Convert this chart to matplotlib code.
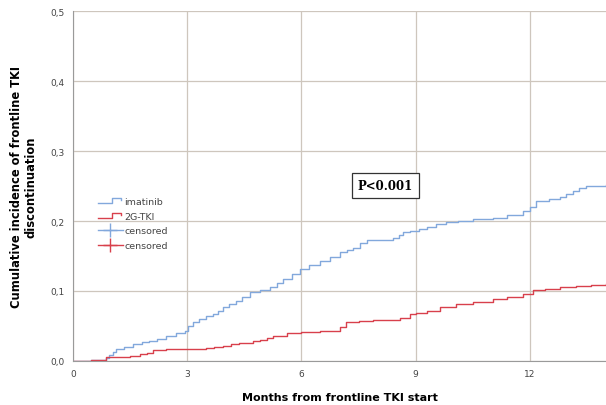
import numpy as np
import matplotlib
matplotlib.use("Agg")
import matplotlib.pyplot as plt
from matplotlib.lines import Line2D
from matplotlib.legend_handler import HandlerBase

# 数据（从图中读取的阶梯点）
imatinib_t = [0.0, 0.48, 0.87, 0.95, 1.05, 1.14, 1.35, 1.57, 1.8, 2.0, 2.2, 2.45, 2.7, 2.93, 3.02, 3.15,
              3.3, 3.5, 3.67, 3.8, 3.94, 4.1, 4.29, 4.45, 4.64, 4.9, 5.17, 5.35, 5.52, 5.75, 5.96, 6.2,
              6.48, 6.75, 7.0, 7.2, 7.36, 7.55, 7.71, 8.41, 8.55, 8.67, 8.85, 9.1, 9.3, 9.54, 9.8, 10.1,
              10.5, 11.03, 11.4, 11.82, 12.0, 12.17, 12.5, 12.78, 12.95, 13.13, 13.3, 13.48, 14.0]
imatinib_v = [0.0, 0.002, 0.004, 0.009, 0.013, 0.017, 0.020, 0.024, 0.027, 0.029, 0.032, 0.036, 0.040,
              0.043, 0.050, 0.055, 0.060, 0.064, 0.067, 0.072, 0.077, 0.081, 0.086, 0.092, 0.098, 0.101,
              0.105, 0.111, 0.117, 0.124, 0.131, 0.137, 0.143, 0.149, 0.155, 0.158, 0.162, 0.168, 0.173,
              0.176, 0.180, 0.184, 0.186, 0.188, 0.192, 0.196, 0.198, 0.200, 0.203, 0.205, 0.209, 0.215,
              0.220, 0.229, 0.232, 0.234, 0.238, 0.243, 0.247, 0.250, 0.252]
tki2g_t = [0.0, 0.48, 0.87, 1.2, 1.49, 1.75, 1.95, 2.1, 2.45, 3.5, 3.7, 3.94, 4.15, 4.37, 4.72, 4.91,
           5.1, 5.26, 5.61, 6.0, 6.48, 7.0, 7.18, 7.5, 7.88, 8.58, 8.84, 9.02, 9.3, 9.63, 10.07, 10.5,
           11.03, 11.4, 11.82, 12.08, 12.4, 12.78, 13.2, 13.6, 14.0]
tki2g_v = [0.0, 0.002, 0.005, 0.006, 0.007, 0.010, 0.012, 0.015, 0.017, 0.019, 0.020, 0.022, 0.024,
           0.026, 0.028, 0.030, 0.033, 0.036, 0.040, 0.041, 0.043, 0.048, 0.055, 0.057, 0.059, 0.061,
           0.067, 0.069, 0.072, 0.077, 0.081, 0.084, 0.089, 0.092, 0.096, 0.102, 0.103, 0.105, 0.107,
           0.109, 0.110]

x_ticks = [0, 3, 6, 9, 12]
y_ticks = [0.0, 0.1, 0.2, 0.3, 0.4, 0.5]
y_labels = ["0,0", "0,1", "0,2", "0,3", "0,4", "0,5"]

blue = "#82A8DC"
red = "#D8404C"
grid_c = "#CEC6BD"


class StepHandler(HandlerBase):
    # 图例中的阶梯小图标
    def create_artists(self, legend, orig_handle, xdescent, ydescent, width, height, fontsize, trans):
        x0 = -xdescent
        xs = [x0, x0 + width * 0.55, x0 + width * 0.55, x0 + width * 0.95, x0 + width * 0.95]
        ys = [0.15 * height, 0.15 * height, 0.85 * height, 0.85 * height, 0.55 * height]
        ln = Line2D(xs, ys, color=orig_handle.get_color(), lw=1, transform=trans)
        return [ln]


fig = plt.figure(figsize=(6.06, 4.06), dpi=100)
ax = fig.add_axes([0.1205, 0.1084, 0.8795, 0.862])

l1, = ax.step(imatinib_t, imatinib_v, where="post", color=blue, lw=1.0)
l2, = ax.step(tki2g_t, tki2g_v, where="post", color=red, lw=1.0)

ax.set_xlim(0, 14)
ax.set_ylim(0, 0.5)
ax.set_xticks(x_ticks)
ax.set_xticklabels([str(t) for t in x_ticks], fontsize=6.5, color="#444444")
ax.set_yticks(y_ticks)
ax.set_yticklabels(y_labels, fontsize=6.5, color="#444444")
ax.tick_params(length=0, pad=6)
ax.grid(True, color=grid_c, lw=0.9)
ax.set_axisbelow(True)
for s in ["top", "right"]:
    ax.spines[s].set_visible(False)
ax.spines["left"].set_color("#9A9A9A")
ax.spines["bottom"].set_color("#9A9A9A")

ax.set_xlabel("Months from frontline TKI start", fontsize=8, fontweight="bold", labelpad=10)
ax.set_ylabel("Cumulative incidence of frontline TKI\ndiscontinuation", fontsize=8.3,
              fontweight="bold", labelpad=9)

ax.text(8.2, 0.251, "P<0.001", family="DejaVu Serif", fontsize=8.5, fontweight="bold",
        ha="center", va="center",
        bbox=dict(boxstyle="square,pad=0.5", fc="white", ec="#333333", lw=0.9))

c1 = Line2D([], [], color=blue, marker="+", markersize=10, lw=1)
c2 = Line2D([], [], color=red, marker="+", markersize=10, lw=1)
leg = ax.legend([l1, l2, c1, c2], ["imatinib", "2G-TKI", "censored", "censored"],
                handler_map={l1: StepHandler(), l2: StepHandler()},
                loc="upper left", bbox_to_anchor=(0.04, 0.48), frameon=False,
                fontsize=6.8, handlelength=2.6, handletextpad=0.2, labelspacing=0.62,
                borderaxespad=0)
for t in leg.get_texts():
    t.set_color("#444444")

fig.savefig("out.png", dpi=100)
